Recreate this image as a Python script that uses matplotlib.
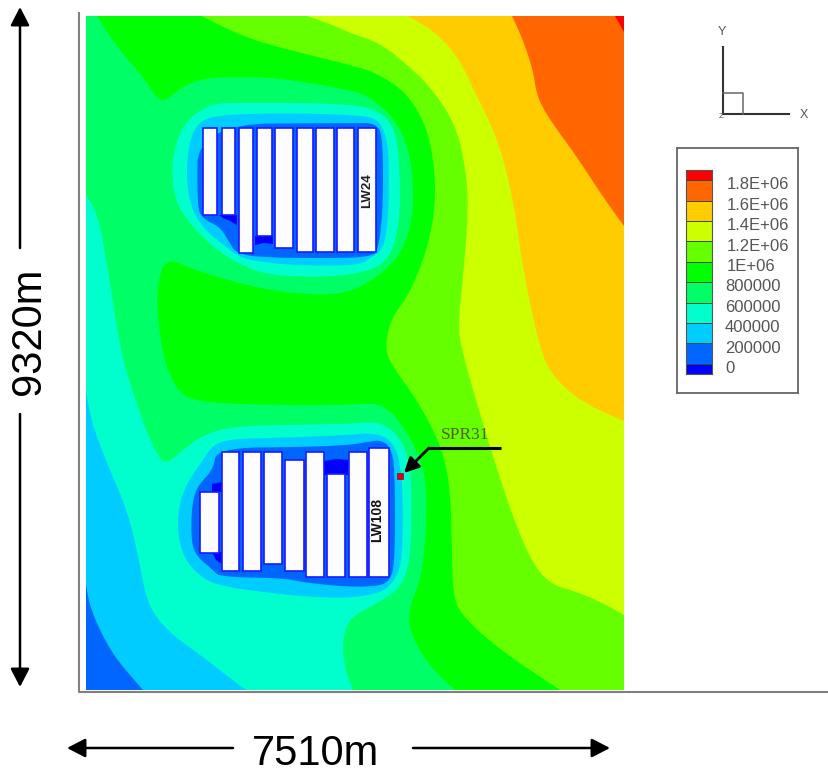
import numpy as np
import matplotlib
matplotlib.use("Agg")
import matplotlib.pyplot as plt
from matplotlib.lines import Line2D
from matplotlib.patches import FancyArrowPatch, Rectangle
from matplotlib.transforms import Affine2D

plt.rcParams['font.family'] = ['Liberation Sans', 'DejaVu Sans']

# ---------------------------------------------------------------- data
MODEL_W, MODEL_H = 7510, 9320          # model size in metres
SCAN_X0, SCAN_X1, SCAN_Y0, SCAN_Y1 = 86, 624, 16, 690   # digitising frame

level_labels = ['0', '200000', '400000', '600000', '800000', '1E+06',
                '1.2E+06', '1.4E+06', '1.6E+06', '1.8E+06']
level_values = [0, 2e5, 4e5, 6e5, 8e5, 1e6, 1.2e6, 1.4e6, 1.6e6, 1.8e6]
band_edges = [0, 1e5, 3e5, 5e5, 7e5, 9e5, 1.1e6, 1.3e6, 1.5e6, 1.7e6, 1.9e6, 2e6]
band_colors = ['#0000ff', '#0066ff', '#00ccff', '#00ffcc', '#00ff66', '#00ff00',
               '#66ff00', '#ccff00', '#ffcc00', '#ff6600', '#ff0000']

# stress contours digitised on the scan (open curves, closed along the right/top side)
contour_200k = [(86, 585), (90, 607), (103, 637), (117, 660), (143, 690)]
contour_400k = [(86, 393), (93, 427), (107, 463), (127, 510), (137, 550), (145, 593),
                (153, 613), (170, 633), (203, 657), (230, 678), (246, 690)]
contour_600k = [(86, 195), (97, 213), (105, 250), (120, 350), (133, 393), (147, 433),
                (160, 460), (168, 463), (183, 450), (203, 435), (230, 427), (277, 425),
                (350, 424), (377, 421), (397, 433), (410, 460), (412, 510), (410, 563),
                (400, 588), (380, 602), (350, 617), (342, 640), (345, 670), (353, 690)]
contour_800k = [(97, 16), (117, 47), (143, 77), (158, 100), (167, 100), (180, 88), (203, 78),
                (240, 77), (280, 78), (350, 90), (370, 97), (393, 117), (407, 143),
                (413, 177), (413, 217), (403, 250), (383, 273), (350, 293), (313, 295),
                (267, 290), (220, 278), (187, 267), (173, 260), (163, 265), (158, 283),
                (157, 310), (162, 350), (170, 377), (183, 397), (210, 403), (270, 405),
                (350, 405), (377, 403), (393, 413), (410, 437), (425, 470), (427, 517),
                (422, 577), (407, 613), (413, 640), (433, 670), (455, 690)]
contour_1000k = [(202, 16), (223, 27), (253, 40), (297, 52), (350, 65), (377, 73), (407, 93),
                 (427, 127), (435, 170), (435, 210), (427, 250), (410, 293), (390, 320),
                 (385, 350), (393, 367), (417, 400), (440, 443), (450, 483), (452, 550),
                 (453, 597), (463, 617), (500, 650), (560, 690)]
contour_1200k = [(307, 16), (333, 25), (350, 33), (380, 43), (410, 67), (433, 90), (457, 127),
                 (467, 177), (468, 217), (463, 277), (458, 327), (462, 350), (473, 390),
                 (490, 447), (507, 500), (527, 553), (547, 583), (577, 592), (603, 603),
                 (624, 615)]
contour_1400k = [(408, 16), (437, 33), (460, 60), (477, 97), (497, 137), (513, 197),
                 (523, 270), (540, 350), (553, 377), (583, 403), (624, 421)]
contour_1600k = [(512, 16), (523, 40), (533, 70), (537, 97), (550, 120), (577, 157),
                 (603, 197), (624, 226)]
contour_1800k = [(615, 16), (624, 32)]

# low-stress rings round the two panel blocks (closed curves)
lw24_ring_600k = [(217, 103), (247, 103), (313, 103), (350, 105), (370, 108), (387, 117),
                  (397, 137), (400, 177), (400, 217), (393, 250), (380, 267), (350, 275),
                  (313, 277), (267, 275), (237, 263), (213, 247), (193, 227), (178, 207),
                  (172, 183), (173, 153), (183, 125), (200, 110)]
lw24_ring_400k = [(220, 115), (280, 113), (360, 115), (380, 120), (388, 143), (389, 177),
                  (388, 223), (383, 250), (370, 258), (360, 265), (313, 266), (267, 263),
                  (240, 258), (220, 242), (207, 232), (193, 213), (187, 187), (187, 157),
                  (192, 133), (202, 120)]
lw24_ring_200k = [(198, 124), (350, 123), (378, 123), (383, 143), (383, 210), (378, 252),
                  (370, 256), (350, 258), (280, 258), (237, 255), (228, 240), (220, 227),
                  (203, 219), (197, 207)]
lw108_ring_400k = [(230, 439), (270, 438), (350, 435), (370, 433), (387, 437), (397, 450),
                   (402, 477), (403, 517), (402, 563), (393, 583), (380, 593), (350, 598),
                   (310, 597), (270, 593), (213, 585), (193, 570), (182, 553), (177, 527),
                   (180, 500), (190, 478), (203, 460), (213, 445)]
lw108_ring_200k = [(217, 448), (303, 447), (350, 445), (367, 442), (380, 440), (390, 446),
                   (395, 467), (395, 563), (390, 580), (380, 586), (350, 587), (307, 583),
                   (283, 578), (220, 577), (213, 570), (195, 555), (191, 537), (192, 503),
                   (198, 485), (213, 470)]
zero_pockets = [
    [(219, 215), (237, 215), (237, 225), (230, 221), (223, 218)],
    [(255, 236), (273, 236), (273, 244), (264, 243), (255, 245)],
    [(324, 461), (336, 459), (348, 460), (348, 475), (324, 475)],
    [(212, 484), (222, 482), (222, 492), (212, 492)],
    [(212, 552), (222, 552), (222, 564), (216, 560)],
]

# longwall panels: left, right, top, bottom on the scan
lw24_left = [203, 222, 239, 257, 275, 297, 316, 337, 358]
lw24_right = [217, 235, 253, 272, 293, 313, 334, 354, 376]
lw24_top = [128, 128, 128, 128, 128, 128, 128, 128, 128]
lw24_bottom = [215, 215, 253, 236, 248, 252, 252, 252, 252]
lw108_left = [200, 222, 243, 264, 285, 306, 327, 349, 369]
lw108_right = [219, 239, 261, 282, 304, 324, 345, 367, 389]
lw108_top = [492, 452, 452, 452, 460, 452, 474, 452, 448]
lw108_bottom = [553, 571, 571, 564, 571, 577, 577, 577, 577]


# ---------------------------------------------------------------- helpers
def to_m(pts):
    a = np.asarray(pts, float)
    x = (a[..., 0] - SCAN_X0) * MODEL_W / (SCAN_X1 - SCAN_X0)
    y = (SCAN_Y1 - a[..., 1]) * MODEL_H / (SCAN_Y1 - SCAN_Y0)
    return np.stack([x, y], axis=-1)


def smooth(pts, closed=False, n=3):
    p = np.asarray(pts, float)
    for _ in range(n):
        if closed:
            q = np.roll(p, -1, axis=0)
            p = np.column_stack([0.75 * p + 0.25 * q, 0.25 * p + 0.75 * q]).reshape(-1, 2)
        else:
            a, b = p[:-1], p[1:]
            mid = np.column_stack([0.75 * a + 0.25 * b, 0.25 * a + 0.75 * b]).reshape(-1, 2)
            p = np.vstack([p[0], mid, p[-1]])
    return p


W, H = 829, 773
fig = plt.figure(figsize=(W / 100, H / 100), dpi=100, facecolor='white')
px = Affine2D().scale(1 / W, -1 / H).translate(0, 1) + fig.transFigure


def axes_px(x0, y0, x1, y1, **kw):
    return fig.add_axes([x0 / W, 1 - y1 / H, (x1 - x0) / W, (y1 - y0) / H], **kw)


# ---------------------------------------------------------------- main contour map
ax = axes_px(SCAN_X0, SCAN_Y0, SCAN_X1, SCAN_Y1)
ax.set_xlim(0, MODEL_W)
ax.set_ylim(0, MODEL_H)
ax.axis('off')

ax.add_patch(Rectangle((0, 0), MODEL_W, MODEL_H, color=band_colors[1], lw=0, zorder=1))
TR, BR, TL = (SCAN_X1, SCAN_Y0), (SCAN_X1, SCAN_Y1), (SCAN_X0, SCAN_Y0)
regional = [
    (contour_200k, [BR, TR, TL], 2), (contour_400k, [BR, TR, TL], 3),
    (contour_600k, [BR, TR, TL], 4), (contour_800k, [BR, TR], 5),
    (contour_1000k, [BR, TR], 6), (contour_1200k, [TR], 7),
    (contour_1400k, [TR], 8), (contour_1600k, [TR], 9), (contour_1800k, [TR], 10),
]
z = 2
for curve, closing, idx in regional:
    poly = to_m(np.vstack([smooth(curve), np.array(closing, float)]))
    ax.fill(poly[:, 0], poly[:, 1], color=band_colors[idx], lw=0, zorder=z)
    z += 1

for ring, idx in [(lw24_ring_600k, 3), (lw24_ring_400k, 2), (lw24_ring_200k, 1),
                  (lw108_ring_400k, 2), (lw108_ring_200k, 1)]:
    poly = to_m(smooth(ring, closed=True))
    ax.fill(poly[:, 0], poly[:, 1], color=band_colors[idx], lw=0, zorder=z)
    z += 1
for pocket in zero_pockets:
    poly = to_m(pocket)
    ax.fill(poly[:, 0], poly[:, 1], color=band_colors[0], lw=0, zorder=z)
z += 1

for L, R, T, B in [(lw24_left, lw24_right, lw24_top, lw24_bottom),
                   (lw108_left, lw108_right, lw108_top, lw108_bottom)]:
    ll = to_m(np.column_stack([L, B]))
    ur = to_m(np.column_stack([R, T]))
    ax.bar(ll[:, 0], ur[:, 1] - ll[:, 1], width=ur[:, 0] - ll[:, 0], bottom=ll[:, 1],
           align='edge', color='#fdfdff', edgecolor='#1a1aff', linewidth=1.2, zorder=z)
z += 1

x, y = to_m((367, 191))
ax.text(x, y, 'LW24', rotation=90, ha='center', va='center', fontsize=9.5,
        fontweight='bold', color='#222222', zorder=z)
x, y = to_m((377, 520))
ax.text(x, y, 'LW108', rotation=90, ha='center', va='center', fontsize=10,
        fontweight='bold', color='#111111', zorder=z)

# SPR31 marker and leader
x, y = to_m((400, 476))
ax.scatter([x], [y], marker='s', s=14, color='#e00010', edgecolors='#901010',
           linewidths=0.5, zorder=z)
leader = to_m([(501, 448), (429, 448), (404, 473)])
ax.plot(leader[:2, 0], leader[:2, 1], color='black', lw=2.2, solid_capstyle='butt', zorder=z)
ax.annotate('', xy=leader[2], xytext=leader[1],
            arrowprops=dict(arrowstyle='-|>,head_length=0.6,head_width=0.3', mutation_scale=15,
                            color='black', lw=2.0, shrinkA=0, shrinkB=0), zorder=z)
x, y = to_m((465, 435))
ax.text(x, y, 'SPR31', ha='center', va='center', fontsize=12.5, family='Liberation Serif',
        color='#55601f', zorder=z)

# ---------------------------------------------------------------- legend
ax_box = axes_px(677, 148, 798, 393)
ax_box.set_xticks([])
ax_box.set_yticks([])
for s in ax_box.spines.values():
    s.set_color('#666666')
    s.set_linewidth(1.3)

ax_cb = axes_px(686, 170, 712, 374)
ax_cb.set_xlim(0, 1)
ax_cb.set_ylim(band_edges[0], band_edges[-1])
ax_cb.set_xticks([])
ax_cb.set_yticks([])
for s in ax_cb.spines.values():
    s.set_color('#555555')
    s.set_linewidth(0.8)
ax_cb.bar(0.5, np.diff(band_edges), bottom=band_edges[:-1], width=1, color=band_colors,
          edgecolor='#3a4a3a', linewidth=0.7)
for lab, val in zip(level_labels, level_values):
    dx = 10.8 if lab.endswith('06') else 9.4
    ax_cb.annotate(lab, xy=(1, val), xycoords=('axes fraction', 'data'),
                   xytext=(dx, 4), textcoords='offset points', ha='left', va='center',
                   fontsize=12, color='#555555', annotation_clip=False)

# ---------------------------------------------------------------- axis triad
for xs, ys, col, lw in [([723, 723], [47, 114], '#333333', 1.5),
                        ([723, 789], [114, 114], '#333333', 1.5),
                        ([723, 743, 743], [93, 93, 114], '#666666', 1.1)]:
    fig.add_artist(Line2D(xs, ys, color=col, lw=lw, transform=px))
for s, xp, yp, fs in [('Y', 722, 32, 9), ('X', 804, 115, 9), ('Z', 721, 117, 6)]:
    fig.text(xp / W, 1 - yp / H, s, ha='center', va='center', fontsize=fs, color='#555555')

# ---------------------------------------------------------------- frame and dimensions
fig.add_artist(Line2D([79, 79, 829], [13, 692, 692], color='#808080', lw=1.5, transform=px))

style = '-|>,head_length=0.62,head_width=0.32'
for a, b in [((20, 248), (20, 7)), ((20, 414), (20, 687)),
             ((233, 748), (67, 748)), ((413, 748), (610, 748))]:
    fig.add_artist(FancyArrowPatch(a, b, arrowstyle=style, mutation_scale=18, color='black',
                                   lw=1.8, shrinkA=0, shrinkB=0, transform=px))
fig.text(316 / W, 1 - 754 / H, '7510m', ha='center', va='center', fontsize=30, color='black')
fig.text(29 / W, 1 - 331 / H, '9320m', ha='center', va='center', rotation=90, fontsize=30,
         color='black')

fig.savefig('out.png', dpi=100, facecolor='white')
